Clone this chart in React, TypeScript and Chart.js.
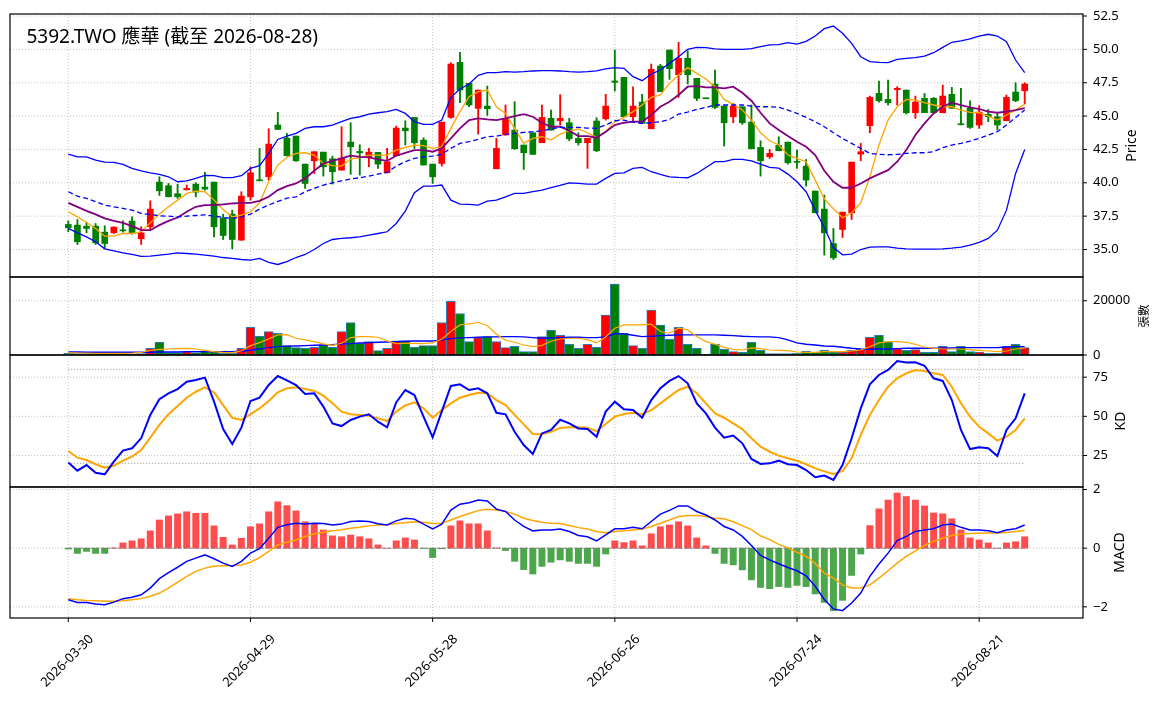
import { useEffect, useRef } from "react";
import { Chart, registerables } from "chart.js";

Chart.register(...registerables);

// ---- price data (one value per trading day) ----
const OPEN = [36.88, 36.83, 36.75, 36.75, 36.3, 36.25, 36.45, 37.13, 35.8, 36.7, 40.05, 39.78, 39.18, 39.48, 39.9, 39.68, 40.05, 37.35, 37.65, 35.7, 38.95, 40.2, 40.45, 44.33, 43.35, 43.5, 41.4, 41.65, 42.3, 41.8, 40.95, 43.05, 42.35, 41.95, 42.28, 40.75, 42.03, 44.1, 44.9, 43.2, 41.4, 41.45, 44.9, 49.03, 47.45, 45.58, 45.75, 41.05, 43.58, 43.95, 42.83, 43.75, 43.0, 44.83, 44.65, 44.5, 43.33, 43.0, 44.63, 44.8, 47.63, 47.9, 44.95, 46.05, 44.05, 48.75, 49.95, 48.1, 49.33, 47.83, 46.35, 47.4, 45.75, 44.95, 45.7, 44.55, 42.65, 41.95, 42.8, 43.05, 41.58, 41.25, 39.38, 38.03, 35.45, 36.5, 37.75, 42.15, 44.28, 46.7, 46.25, 46.98, 46.95, 45.25, 46.33, 46.33, 45.25, 46.63, 44.4, 45.58, 44.33, 45.13, 44.95, 44.65, 46.8, 46.9];
const HIGH = [37.15, 37.25, 37.05, 36.95, 36.78, 36.7, 37.15, 37.45, 36.7, 38.65, 40.45, 39.95, 39.9, 39.83, 40.0, 40.78, 40.05, 37.65, 37.95, 39.33, 41.2, 42.58, 44.05, 45.28, 43.7, 43.5, 41.4, 42.33, 42.3, 42.0, 44.2, 44.5, 42.85, 42.58, 42.28, 42.58, 44.25, 44.65, 44.9, 43.38, 41.4, 44.55, 49.0, 49.78, 47.45, 46.95, 47.25, 43.33, 45.83, 46.08, 42.83, 43.75, 45.83, 45.45, 46.6, 44.83, 43.75, 43.33, 44.88, 46.63, 49.95, 47.9, 47.2, 46.63, 48.9, 48.88, 49.95, 50.53, 49.9, 47.83, 46.35, 48.45, 45.75, 45.95, 45.7, 45.83, 43.15, 42.5, 43.45, 43.05, 42.45, 41.75, 39.38, 39.08, 36.58, 37.8, 41.55, 42.95, 46.5, 47.63, 47.7, 47.2, 46.95, 46.5, 46.7, 46.4, 47.33, 47.15, 47.08, 46.15, 45.78, 45.5, 45.2, 46.58, 47.5, 47.5];
const LOW = [36.33, 35.38, 36.25, 35.38, 35.08, 36.2, 36.3, 36.15, 35.38, 36.45, 39.05, 38.95, 38.83, 39.45, 38.95, 39.45, 35.95, 35.75, 35.05, 35.7, 38.7, 40.15, 40.2, 44.0, 42.0, 41.6, 39.58, 40.7, 40.5, 39.9, 40.95, 40.63, 40.58, 41.2, 41.08, 40.75, 42.03, 42.83, 42.58, 41.33, 39.95, 41.25, 44.83, 46.0, 45.7, 43.65, 45.05, 41.05, 43.58, 42.5, 41.0, 42.13, 43.0, 43.95, 44.33, 43.15, 42.83, 41.08, 42.33, 44.7, 46.88, 44.95, 44.58, 44.45, 44.05, 46.83, 47.75, 46.4, 47.4, 46.15, 46.3, 45.55, 42.75, 44.5, 44.38, 42.55, 40.5, 41.83, 42.4, 41.4, 41.08, 39.75, 37.75, 34.58, 34.25, 35.9, 37.25, 41.65, 43.75, 46.05, 45.83, 45.83, 45.15, 44.83, 45.25, 45.25, 45.25, 45.58, 44.33, 44.08, 44.08, 44.58, 43.95, 44.65, 46.08, 45.9];
const CLOSE = [36.63, 35.58, 36.58, 35.5, 35.45, 36.68, 36.4, 36.2, 36.25, 38.03, 39.4, 38.95, 38.95, 39.58, 39.3, 39.53, 36.7, 36.05, 35.75, 39.0, 40.75, 40.15, 42.9, 44.0, 42.03, 41.65, 39.95, 42.33, 41.2, 40.83, 41.85, 42.7, 42.25, 42.3, 41.4, 41.58, 44.1, 43.9, 43.0, 41.33, 40.45, 44.55, 48.9, 46.95, 45.83, 46.95, 45.55, 42.58, 44.83, 42.55, 42.25, 42.13, 44.9, 43.95, 44.83, 43.3, 43.0, 43.33, 42.4, 45.75, 47.53, 44.95, 45.75, 44.45, 48.5, 46.83, 48.55, 49.33, 48.1, 46.33, 46.3, 45.65, 44.5, 45.75, 44.5, 42.55, 41.65, 42.2, 42.4, 41.5, 41.53, 40.2, 37.75, 36.25, 34.38, 37.8, 41.55, 42.33, 46.4, 46.15, 46.0, 47.08, 45.25, 46.05, 45.25, 45.25, 46.5, 45.58, 44.35, 44.15, 45.3, 44.95, 44.33, 46.4, 46.15, 47.4];

// moving averages and bollinger bands
const MA5 = [37.83, 37.45, 37.03, 36.58, 36.0, 36.0, 36.2, 36.2, 36.33, 37.0, 37.65, 38.2, 38.7, 39.2, 39.38, 39.33, 38.7, 38.0, 37.45, 37.58, 37.83, 38.5, 40.08, 41.33, 41.9, 42.2, 42.25, 42.08, 41.45, 41.28, 41.25, 41.78, 41.88, 42.08, 42.08, 42.08, 42.45, 42.65, 42.83, 42.78, 42.58, 42.7, 44.08, 45.33, 46.45, 46.83, 46.95, 45.7, 45.2, 44.08, 42.95, 43.33, 43.45, 43.2, 43.65, 43.9, 44.03, 43.75, 43.38, 43.83, 44.58, 44.9, 45.33, 45.83, 46.4, 46.58, 47.45, 48.08, 48.63, 48.2, 47.78, 47.2, 46.25, 45.88, 45.45, 44.7, 43.75, 43.15, 42.83, 42.08, 41.83, 41.58, 40.2, 38.8, 38.05, 37.38, 37.75, 38.5, 40.45, 42.83, 44.7, 45.7, 46.25, 46.2, 46.0, 45.83, 45.7, 45.7, 45.45, 45.28, 45.25, 45.0, 44.7, 45.08, 45.45, 45.9];
const MA10 = [38.5, 38.2, 37.9, 37.63, 37.33, 37.15, 37.0, 36.75, 36.45, 36.45, 36.83, 37.15, 37.4, 37.83, 38.2, 38.33, 38.33, 38.38, 38.45, 38.5, 38.5, 38.65, 38.95, 39.45, 39.75, 39.95, 40.33, 40.9, 41.45, 41.65, 41.83, 42.03, 41.95, 41.9, 41.75, 41.65, 42.03, 42.25, 42.45, 42.45, 42.33, 42.58, 43.33, 44.08, 44.7, 44.83, 44.75, 44.7, 44.83, 45.0, 45.15, 44.95, 44.5, 44.2, 44.2, 43.9, 43.5, 43.5, 43.38, 43.83, 44.33, 44.5, 44.58, 44.58, 45.08, 45.7, 46.08, 46.58, 47.2, 47.25, 47.15, 47.15, 47.08, 47.2, 46.75, 46.15, 45.25, 44.45, 43.95, 43.5, 43.08, 42.7, 42.08, 40.9, 40.08, 39.63, 39.63, 39.95, 40.33, 40.65, 40.95, 41.58, 42.45, 43.58, 44.45, 45.2, 45.7, 46.0, 45.83, 45.65, 45.53, 45.33, 45.25, 45.33, 45.45, 45.6];
const BB_UP = [42.15, 41.95, 41.95, 41.7, 41.55, 41.53, 41.38, 41.08, 40.9, 40.75, 40.63, 40.45, 40.08, 40.15, 40.33, 40.55, 40.53, 40.38, 40.38, 40.53, 41.08, 41.28, 42.2, 43.25, 43.5, 43.7, 44.08, 44.2, 44.2, 44.33, 44.58, 44.83, 44.95, 45.15, 45.25, 45.33, 45.5, 45.2, 44.58, 44.38, 44.38, 44.7, 46.4, 47.03, 47.4, 48.05, 48.25, 48.25, 48.33, 48.3, 48.33, 48.38, 48.4, 48.4, 48.38, 48.33, 48.3, 48.33, 48.38, 48.53, 48.63, 48.58, 47.95, 47.65, 48.15, 48.45, 48.95, 49.45, 50.0, 50.15, 50.13, 50.03, 50.0, 50.0, 50.0, 50.05, 50.2, 50.33, 50.35, 50.5, 50.4, 50.6, 51.0, 51.55, 51.75, 51.2, 50.45, 49.45, 49.08, 49.03, 49.0, 49.25, 49.33, 49.38, 49.5, 49.75, 50.15, 50.53, 50.63, 50.78, 51.0, 51.13, 51.0, 50.58, 49.2, 48.25];
const BB_MID = [39.33, 39.0, 38.83, 38.58, 38.33, 38.2, 38.08, 37.95, 37.7, 37.63, 37.53, 37.5, 37.45, 37.5, 37.55, 37.6, 37.5, 37.4, 37.33, 37.45, 37.65, 38.03, 38.33, 38.6, 38.85, 38.95, 39.33, 39.58, 39.83, 40.0, 40.15, 40.28, 40.38, 40.5, 40.65, 40.78, 41.25, 41.58, 41.83, 41.95, 42.0, 42.13, 42.58, 42.95, 43.08, 43.25, 43.45, 43.5, 43.63, 43.7, 43.78, 43.83, 43.9, 44.03, 44.15, 44.15, 44.15, 44.1, 44.08, 44.33, 44.65, 44.7, 44.55, 44.45, 44.5, 44.58, 44.75, 45.15, 45.3, 45.5, 45.65, 45.83, 45.83, 45.83, 45.83, 45.75, 45.7, 45.7, 45.65, 45.45, 45.2, 44.9, 44.58, 44.2, 43.75, 43.33, 42.95, 42.58, 42.2, 42.13, 42.1, 42.13, 42.2, 42.25, 42.25, 42.33, 42.63, 42.83, 42.95, 43.13, 43.33, 43.58, 43.83, 44.33, 44.9, 45.45];
const BB_LOW = [36.58, 36.25, 35.95, 35.58, 35.05, 34.9, 34.75, 34.63, 34.48, 34.5, 34.58, 34.65, 34.75, 34.7, 34.65, 34.58, 34.5, 34.4, 34.33, 34.25, 34.2, 34.33, 34.03, 33.88, 34.1, 34.4, 34.63, 35.0, 35.45, 35.75, 35.83, 35.88, 35.95, 36.08, 36.2, 36.33, 36.95, 37.88, 39.25, 39.75, 39.75, 39.83, 38.7, 38.4, 38.38, 38.33, 38.63, 38.7, 38.95, 39.2, 39.2, 39.33, 39.45, 39.63, 39.8, 40.0, 39.95, 39.9, 39.9, 40.33, 40.7, 40.75, 41.08, 41.15, 40.83, 40.63, 40.45, 40.4, 40.38, 40.7, 41.15, 41.58, 41.58, 41.75, 41.75, 41.65, 41.4, 41.15, 41.1, 40.65, 40.08, 39.33, 37.95, 36.65, 35.15, 34.6, 34.65, 35.0, 35.18, 35.2, 35.2, 35.1, 35.05, 35.03, 35.03, 35.03, 35.05, 35.1, 35.18, 35.33, 35.53, 35.83, 36.45, 37.95, 40.7, 42.5];

// volume (張) and its averages
const VOLUME = [600, 500, 500, 500, 500, 400, 400, 400, 500, 2470, 4700, 860, 860, 1235, 860, 1480, 1235, 620, 620, 2470, 10250, 6900, 8650, 8030, 3460, 2720, 2470, 2840, 3700, 2840, 8650, 11980, 4320, 4940, 1600, 2470, 5190, 5190, 2840, 3460, 3460, 11980, 19760, 15310, 4940, 6420, 6790, 4940, 2720, 3210, 1235, 1235, 6790, 9100, 7300, 3950, 2470, 3950, 2840, 14700, 26180, 8030, 3460, 2470, 16550, 10990, 5800, 10250, 3950, 2470, 250, 3950, 2100, 1235, 990, 4690, 1730, 500, 500, 500, 620, 1360, 990, 1730, 1110, 1110, 1730, 2220, 6550, 7290, 4820, 2350, 1730, 1980, 990, 990, 3210, 1235, 3210, 1235, 1110, 620, 620, 3210, 3950, 2720];
const VOL_MA5 = [860, 740, 740, 620, 620, 620, 620, 740, 990, 1730, 2100, 2220, 2350, 2470, 2220, 1730, 1235, 990, 860, 1480, 3460, 4570, 5930, 7400, 7500, 6180, 5560, 4940, 4080, 3580, 4320, 6420, 6790, 6790, 6550, 5190, 4200, 4320, 4320, 4200, 4570, 5800, 8650, 11100, 11490, 11980, 10870, 7650, 5430, 4690, 3700, 3090, 3580, 5060, 5900, 6180, 6180, 5680, 4450, 6670, 9880, 11110, 11110, 11110, 11360, 8650, 8030, 9880, 9260, 6790, 4940, 3950, 2840, 2100, 1850, 2590, 2350, 1850, 1730, 1600, 1110, 990, 990, 1235, 1235, 1235, 1480, 1850, 3090, 4450, 4940, 4940, 4690, 3950, 2960, 2470, 2220, 2220, 2220, 1980, 1730, 1480, 1235, 1480, 2220, 2590];
const VOL_MA20 = [1110, 1110, 990, 990, 990, 990, 990, 990, 990, 990, 1110, 1110, 1110, 1235, 1235, 1235, 1235, 1235, 1235, 1360, 1730, 2220, 2720, 3090, 3270, 3330, 3460, 3580, 3700, 3830, 4080, 4200, 4450, 4570, 4690, 4820, 4940, 5060, 5190, 5190, 5190, 5560, 6050, 6300, 6420, 6550, 6670, 6670, 6790, 6790, 6670, 6420, 6180, 6300, 6420, 6550, 6550, 6420, 6420, 6670, 7900, 7780, 7290, 6790, 6920, 7160, 7290, 7410, 7410, 7410, 7410, 7410, 7290, 7160, 6920, 6790, 6670, 6670, 6420, 5560, 4450, 3950, 3700, 3330, 3210, 2840, 2470, 2220, 2100, 2220, 2220, 2350, 2470, 2470, 2470, 2470, 2470, 2590, 2720, 2720, 2720, 2720, 2720, 2960, 3090, 3090];

// KD
const K = [20.6, 15.3, 18.9, 14.0, 13.0, 21.1, 28.1, 29.6, 36.0, 50.9, 60.9, 64.7, 67.4, 72.1, 73.2, 74.7, 59.4, 41.9, 32.3, 42.8, 59.8, 61.9, 70.0, 75.7, 73.0, 70.0, 64.3, 64.7, 56.2, 45.5, 43.8, 47.7, 49.8, 51.3, 46.6, 43.0, 58.9, 66.8, 63.6, 49.8, 36.6, 53.0, 69.4, 70.4, 66.8, 67.9, 64.7, 52.3, 51.3, 40.2, 31.7, 26.0, 39.1, 41.3, 47.8, 45.5, 42.3, 41.9, 37.0, 53.0, 59.4, 54.5, 54.0, 49.1, 60.4, 67.9, 72.6, 75.7, 71.1, 58.3, 51.9, 42.8, 36.4, 37.7, 32.8, 22.8, 19.6, 20.0, 21.7, 19.4, 18.9, 15.7, 11.1, 12.2, 9.4, 18.9, 36.0, 55.1, 70.4, 76.4, 79.6, 85.3, 84.3, 84.5, 82.3, 74.3, 72.6, 60.4, 41.3, 29.1, 30.2, 29.6, 24.7, 41.3, 48.7, 64.7];
const D = [27.9, 23.6, 22.1, 19.4, 17.2, 18.5, 21.7, 24.3, 28.5, 36.4, 44.5, 51.3, 56.6, 61.9, 65.7, 68.5, 65.3, 57.2, 49.1, 47.7, 51.3, 55.1, 59.8, 65.3, 67.9, 68.5, 67.4, 66.2, 63.2, 58.3, 53.0, 51.3, 50.9, 50.4, 48.7, 47.0, 53.0, 57.0, 58.9, 55.1, 49.1, 54.0, 58.3, 61.9, 63.6, 65.1, 64.7, 60.4, 57.2, 50.9, 44.9, 38.7, 38.5, 40.2, 42.6, 43.0, 43.0, 42.8, 40.6, 45.1, 49.8, 51.5, 52.3, 51.3, 54.0, 58.3, 62.6, 66.8, 68.9, 64.7, 58.3, 51.9, 49.1, 45.5, 41.9, 36.0, 30.6, 27.4, 24.9, 23.2, 21.7, 19.4, 16.8, 14.9, 13.0, 15.1, 23.2, 38.1, 50.9, 60.4, 68.9, 74.3, 77.5, 79.6, 78.9, 77.5, 76.4, 68.9, 58.3, 49.8, 43.4, 39.1, 34.5, 37.0, 41.3, 48.7];
const KD_LEVELS = [80, 20];

// MACD
const DIF = [-1.76, -1.85, -1.85, -1.9, -1.93, -1.84, -1.72, -1.67, -1.59, -1.36, -1.04, -0.83, -0.65, -0.45, -0.34, -0.23, -0.36, -0.51, -0.62, -0.45, -0.17, -0.02, 0.34, 0.71, 0.8, 0.85, 0.82, 0.85, 0.84, 0.79, 0.82, 0.91, 0.93, 0.91, 0.83, 0.79, 0.93, 1.02, 0.99, 0.82, 0.66, 0.82, 1.3, 1.5, 1.55, 1.64, 1.61, 1.33, 1.25, 0.96, 0.74, 0.59, 0.62, 0.62, 0.65, 0.57, 0.43, 0.39, 0.25, 0.45, 0.66, 0.66, 0.71, 0.66, 0.91, 1.16, 1.29, 1.44, 1.44, 1.25, 1.13, 0.96, 0.74, 0.62, 0.4, 0.09, -0.25, -0.4, -0.53, -0.66, -0.77, -0.94, -1.3, -1.75, -2.07, -2.13, -1.87, -1.53, -0.96, -0.54, -0.17, 0.26, 0.4, 0.57, 0.62, 0.66, 0.79, 0.82, 0.71, 0.62, 0.62, 0.59, 0.53, 0.62, 0.66, 0.79];
const DEA = [-1.72, -1.76, -1.78, -1.79, -1.81, -1.81, -1.79, -1.76, -1.72, -1.64, -1.53, -1.36, -1.16, -0.96, -0.79, -0.68, -0.62, -0.6, -0.59, -0.57, -0.48, -0.32, -0.11, 0.11, 0.2, 0.28, 0.4, 0.48, 0.54, 0.59, 0.63, 0.68, 0.71, 0.76, 0.79, 0.8, 0.84, 0.87, 0.9, 0.88, 0.84, 0.85, 0.96, 1.08, 1.18, 1.28, 1.33, 1.3, 1.25, 1.16, 1.02, 0.94, 0.88, 0.85, 0.84, 0.77, 0.7, 0.65, 0.57, 0.53, 0.57, 0.59, 0.62, 0.65, 0.74, 0.85, 0.96, 1.08, 1.11, 1.11, 1.08, 1.02, 1.0, 0.9, 0.77, 0.63, 0.42, 0.29, 0.13, 0.01, -0.14, -0.28, -0.52, -0.85, -1.02, -1.25, -1.36, -1.36, -1.25, -1.02, -0.77, -0.51, -0.28, -0.09, 0.09, 0.23, 0.34, 0.43, 0.48, 0.5, 0.51, 0.52, 0.52, 0.53, 0.57, 0.6];
const HIST = [-0.03, -0.18, -0.11, -0.18, -0.18, 0.01, 0.18, 0.25, 0.32, 0.59, 0.96, 1.1, 1.17, 1.24, 1.19, 1.19, 0.76, 0.37, 0.11, 0.34, 0.73, 0.83, 1.24, 1.58, 1.45, 1.27, 0.9, 0.85, 0.62, 0.42, 0.39, 0.45, 0.39, 0.32, 0.11, 0.0, 0.25, 0.35, 0.28, -0.01, -0.32, -0.02, 0.76, 0.93, 0.83, 0.83, 0.59, 0.01, -0.08, -0.45, -0.73, -0.88, -0.62, -0.48, -0.4, -0.45, -0.52, -0.52, -0.62, -0.2, 0.25, 0.19, 0.25, 0.08, 0.49, 0.73, 0.79, 0.9, 0.76, 0.35, 0.08, -0.18, -0.52, -0.57, -0.74, -1.08, -1.34, -1.38, -1.31, -1.34, -1.27, -1.31, -1.56, -1.85, -2.13, -1.78, -0.93, -0.2, 0.77, 1.34, 1.64, 1.88, 1.76, 1.64, 1.44, 1.2, 1.17, 1.0, 0.62, 0.35, 0.28, 0.18, 0.0, 0.18, 0.22, 0.39];

// trading calendar (weekdays minus market holidays)
const START_DATE = "2026-03-30";
const HOLIDAYS = ["2026-04-03", "2026-04-06", "2026-05-01", "2026-06-19"];
const DATES: string[] = [];
for (let t = Date.parse(START_DATE + "T00:00:00Z"); DATES.length < CLOSE.length; t += 86400000) {
  const d = new Date(t);
  const s = d.toISOString().slice(0, 10);
  const wd = d.getUTCDay();
  if (wd !== 0 && wd !== 6 && !HOLIDAYS.includes(s)) DATES.push(s);
}

const TITLE = "5392.TWO 應華 (截至 2026-08-28)";
const X_TICKS = [0, 20, 40, 60, 80, 100];
const PRICE_TICKS = [35, 37.5, 40, 42.5, 45, 47.5, 50, 52.5];
const VOL_TICKS = [0, 20000];
const KD_TICKS = [25, 50, 75];
const MACD_TICKS = [-2, 0, 2];

const FONT = '"Noto Sans", "Noto Sans CJK TC", sans-serif';
const W = 1164;
const AXIS_W = 81;
const X_MIN = -6.4;
const X_MAX = 111.4;
const LAST = CLOSE.length - 1;

const UP = "#ff0000";
const DOWN = "#008000";
const candleColors = CLOSE.map((c, i) => (c >= OPEN[i] ? UP : DOWN));

const pts = (arr: number[]) => arr.map((y, x) => ({ x, y }));
const line = (data: number[], color: string, width: number, extra: any = {}) => ({
  type: "line",
  data: pts(data),
  borderColor: color,
  borderWidth: width,
  pointRadius: 0,
  tension: 0,
  order: 0,
  ...extra,
});
const level = (y: number, color: string, dash: number[]) => ({
  type: "line",
  data: [{ x: 0, y }, { x: LAST, y }],
  borderColor: color,
  borderWidth: 1,
  borderDash: dash,
  pointRadius: 0,
  order: 1,
});

type PanelOpts = {
  yTicks: number[];
  fmt: (v: number) => string;
  yTitle: string;
  yTitleX: number;
  yTitleSize: number;
  title?: string;
  xLabels?: boolean;
};

// grid, frame, tick marks and labels, drawn from the chart's own scales
function panelPlugin(o: PanelOpts) {
  return {
    id: "panel",
    beforeDatasetsDraw(chart: any) {
      const { ctx, chartArea: a, scales } = chart;
      ctx.save();
      ctx.beginPath();
      ctx.rect(a.left, a.top, a.right - a.left, a.bottom - a.top);
      ctx.clip();
      ctx.strokeStyle = "#b4b4b4";
      ctx.lineWidth = 0.8;
      ctx.setLineDash([1, 2]);
      for (const v of X_TICKS) {
        const x = scales.x.getPixelForValue(v);
        ctx.beginPath();
        ctx.moveTo(x, a.top);
        ctx.lineTo(x, a.bottom);
        ctx.stroke();
      }
      for (const v of o.yTicks) {
        const y = scales.y.getPixelForValue(v);
        ctx.beginPath();
        ctx.moveTo(a.left, y);
        ctx.lineTo(a.right, y);
        ctx.stroke();
      }
      ctx.restore();
    },
    afterDraw(chart: any) {
      const { ctx, chartArea: a, scales } = chart;
      ctx.save();
      ctx.strokeStyle = "#000";
      ctx.fillStyle = "#000";
      ctx.lineWidth = 1.2;
      ctx.strokeRect(a.left, a.top, a.right - a.left, a.bottom - a.top);
      ctx.lineWidth = 1;
      ctx.font = `13px ${FONT}`;
      ctx.textAlign = "left";
      ctx.textBaseline = "middle";
      for (const v of o.yTicks) {
        const y = scales.y.getPixelForValue(v);
        ctx.beginPath();
        ctx.moveTo(a.right, y);
        ctx.lineTo(a.right + 4, y);
        ctx.stroke();
        ctx.fillText(o.fmt(v), a.right + 10, y);
      }
      ctx.save();
      ctx.translate(o.yTitleX, (a.top + a.bottom) / 2);
      ctx.rotate(-Math.PI / 2);
      ctx.font = `${o.yTitleSize}px ${FONT}`;
      ctx.textAlign = "center";
      ctx.textBaseline = "middle";
      ctx.fillText(o.yTitle, 0, 0);
      ctx.restore();
      if (o.title) {
        ctx.font = `19px ${FONT}`;
        ctx.textAlign = "left";
        ctx.textBaseline = "alphabetic";
        ctx.fillText(o.title, 26.5, 43);
      }
      if (o.xLabels) {
        ctx.font = `13px ${FONT}`;
        for (const v of X_TICKS) {
          const x = scales.x.getPixelForValue(v);
          ctx.beginPath();
          ctx.moveTo(x, a.bottom);
          ctx.lineTo(x, a.bottom + 4);
          ctx.stroke();
          ctx.save();
          ctx.translate(x - 1, a.bottom + 43);
          ctx.rotate(-Math.PI / 4);
          ctx.textAlign = "center";
          ctx.textBaseline = "middle";
          ctx.fillText(DATES[v], 0, 0);
          ctx.restore();
        }
      }
      ctx.restore();
    },
  };
}

function makeConfig(
  datasets: any[],
  yMin: number,
  yMax: number,
  pad: { top: number; bottom: number },
  o: PanelOpts
): any {
  return {
    type: "bar",
    data: { datasets },
    options: {
      animation: false,
      responsive: false,
      events: [],
      layout: { padding: { left: 10, right: AXIS_W, top: pad.top, bottom: pad.bottom } },
      plugins: { legend: { display: false }, tooltip: { enabled: false } },
      scales: {
        x: { type: "linear", min: X_MIN, max: X_MAX, offset: false, display: false },
        y: { type: "linear", min: yMin, max: yMax, display: false },
      },
    },
    plugins: [panelPlugin(o)],
  };
}

const minus = (v: number) => String(v).replace("-", "\u2212");

function priceConfig() {
  return makeConfig(
    [
      {
        type: "bar",
        data: LOW.map((l, i) => ({ x: i, y: [l, HIGH[i]] })),
        backgroundColor: candleColors,
        barThickness: 1.2,
        grouped: false,
        order: 3,
      },
      {
        type: "bar",
        data: OPEN.map((op, i) => ({ x: i, y: [op, CLOSE[i]] })),
        backgroundColor: candleColors,
        barThickness: 6,
        minBarLength: 1,
        grouped: false,
        order: 2,
      },
      line(BB_UP, "#0000ff", 1.3),
      line(BB_LOW, "#0000ff", 1.3),
      line(BB_MID, "#0000ff", 1.3, { borderDash: [5, 3] }),
      line(MA10, "#800080", 1.8),
      line(MA5, "#ffa500", 1.3),
    ],
    32.94,
    52.65,
    { top: 14, bottom: 12 },
    { yTicks: PRICE_TICKS, fmt: (v) => v.toFixed(1), yTitle: "Price", yTitleX: 1132, yTitleSize: 14, title: TITLE }
  );
}

function volumeConfig() {
  return makeConfig(
    [
      {
        type: "bar",
        data: pts(VOLUME),
        backgroundColor: candleColors,
        borderColor: "#2b7bba",
        borderWidth: 1,
        borderSkipped: false,
        barThickness: 9,
        grouped: false,
        order: 2,
      },
      line(VOL_MA5, "#ffa500", 1.2),
      line(VOL_MA20, "#0000ff", 1.4),
    ],
    0,
    28770,
    { top: 12, bottom: 12 },
    { yTicks: VOL_TICKS, fmt: (v) => String(v), yTitle: "張數", yTitleX: 1145, yTitleSize: 11.5 }
  );
}

function kdConfig() {
  return makeConfig(
    [
      ...KD_LEVELS.map((lv) => level(lv, "#8c8c8c", [1, 2])),
      line(K, "#0000ff", 2),
      line(D, "#ffa500", 2),
    ],
    4.9,
    89.15,
    { top: 12, bottom: 12 },
    { yTicks: KD_TICKS, fmt: (v) => String(v), yTitle: "KD", yTitleX: 1121, yTitleSize: 14 }
  );
}

function macdConfig() {
  return makeConfig(
    [
      {
        type: "bar",
        data: pts(HIST),
        backgroundColor: HIST.map((v) => (v >= 0 ? "rgba(255,0,0,0.7)" : "rgba(0,128,0,0.7)")),
        barThickness: 6.3,
        grouped: false,
        order: 2,
      },
      level(0, "#808080", [3.5, 2]),
      line(DIF, "#0000ff", 1.5),
      line(DEA, "#ffa500", 1.5),
    ],
    -2.38,
    2.085,
    { top: 12, bottom: 85 },
    { yTicks: MACD_TICKS, fmt: minus, yTitle: "MACD", yTitleX: 1120, yTitleSize: 14, xLabels: true }
  );
}

export default function App() {
  const priceRef = useRef<HTMLCanvasElement | null>(null);
  const volRef = useRef<HTMLCanvasElement | null>(null);
  const kdRef = useRef<HTMLCanvasElement | null>(null);
  const macdRef = useRef<HTMLCanvasElement | null>(null);

  useEffect(() => {
    const charts: Chart[] = [];
    if (priceRef.current) charts.push(new Chart(priceRef.current, priceConfig()));
    if (volRef.current) charts.push(new Chart(volRef.current, volumeConfig()));
    if (kdRef.current) charts.push(new Chart(kdRef.current, kdConfig()));
    if (macdRef.current) charts.push(new Chart(macdRef.current, macdConfig()));
    return () => {
      charts.forEach((c) => c.destroy());
    };
  }, []);

  const pos = (top: number, height: number) => ({
    position: "absolute" as const,
    left: 0,
    top,
    width: W,
    height,
  });

  return (
    <div
      style={{
        position: "absolute",
        left: 0,
        top: 0,
        width: W,
        height: 703,
        background: "#ffffff",
        overflow: "hidden",
      }}
    >
      <canvas ref={priceRef} width={W} height={289} style={pos(0, 289)} />
      <canvas ref={volRef} width={W} height={102} style={pos(265, 102)} />
      <canvas ref={kdRef} width={W} height={156} style={pos(343, 156)} />
      <canvas ref={macdRef} width={W} height={228} style={pos(475, 228)} />
    </div>
  );
}
